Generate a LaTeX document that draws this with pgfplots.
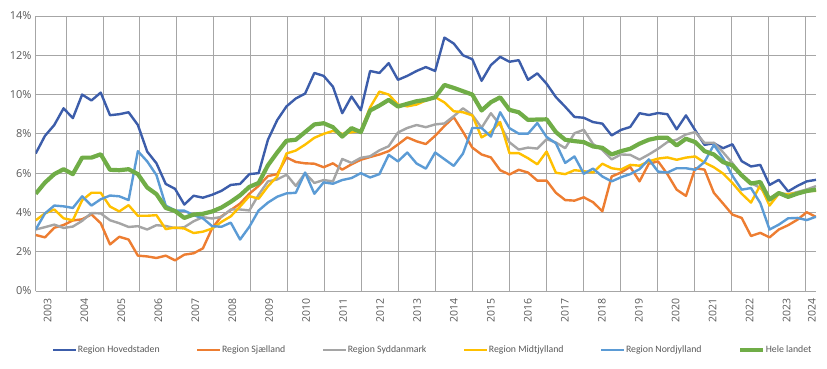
\documentclass[border=0pt]{standalone}
\usepackage{fontspec}
\setmainfont{Carlito}
\newfontfamily\tickfont{Open Sans}
\usepackage{pgfplots}
\usepackage{pgfplotstable}
\pgfplotsset{compat=1.18}
\definecolor{hov}{HTML}{3C5DAA}
\definecolor{sja}{HTML}{ED7D31}
\definecolor{syd}{HTML}{A5A5A5}
\definecolor{mid}{HTML}{FFC000}
\definecolor{nor}{HTML}{5B9BD5}
\definecolor{hel}{HTML}{70AD47}
\definecolor{gridc}{HTML}{A6A6A6}
\definecolor{txtc}{HTML}{595959}
\pgfplotstableread{
i hov sja syd mid nor hel
0 7.0 2.85 3.13 3.6 3.13 4.95
1 7.9 2.73 3.25 3.95 3.95 5.52
2 8.45 3.22 3.38 4.15 4.35 5.95
3 9.3 3.36 3.21 3.7 4.31 6.2
4 8.8 3.59 3.28 3.6 4.23 5.95
5 10.0 3.65 3.57 4.62 4.82 6.79
6 9.7 3.9 3.97 5.0 4.35 6.79
7 10.1 3.45 3.95 5.0 4.67 6.96
8 8.95 2.37 3.6 4.3 4.86 6.17
9 9.0 2.76 3.45 4.05 4.82 6.15
10 9.1 2.62 3.26 4.37 4.63 6.2
11 8.45 1.8 3.3 3.83 7.12 5.95
12 7.1 1.76 3.13 3.83 6.6 5.27
13 6.5 1.68 3.35 3.86 5.9 4.93
14 5.45 1.8 3.31 3.15 4.35 4.23
15 5.2 1.56 3.2 3.23 4.1 4.07
16 4.4 1.85 3.25 3.18 4.09 3.72
17 4.85 1.92 3.55 2.95 3.86 3.89
18 4.75 2.17 3.76 3.02 3.7 3.93
19 4.9 3.2 3.69 3.18 3.3 4.05
20 5.1 3.8 3.77 3.52 3.27 4.25
21 5.4 4.12 4.15 3.8 3.48 4.54
22 5.45 4.45 4.15 4.3 2.62 4.87
23 5.95 4.95 4.1 4.83 3.27 5.3
24 6.0 5.35 4.9 4.7 4.1 5.5
25 7.7 5.85 5.58 5.33 4.5 6.4
26 8.7 5.95 5.68 5.83 4.8 7.05
27 9.4 6.8 5.92 7.0 4.97 7.65
28 9.8 6.57 5.35 7.15 5.0 7.7
29 10.05 6.5 6.0 7.45 6.03 8.09
30 11.1 6.48 5.5 7.8 4.95 8.48
31 10.95 6.3 5.65 8.0 5.53 8.54
32 10.4 6.5 5.58 8.15 5.46 8.34
33 9.05 6.18 6.72 8.0 5.65 7.86
34 9.9 6.45 6.52 8.08 5.75 8.29
35 9.2 6.68 6.78 8.15 6.0 8.09
36 11.2 6.82 6.86 9.35 5.78 9.19
37 11.1 6.95 7.16 10.15 5.95 9.44
38 11.6 7.12 7.37 10.0 6.93 9.73
39 10.75 7.46 8.07 9.49 6.6 9.39
40 10.95 7.82 8.3 9.4 7.05 9.53
41 11.2 7.62 8.45 9.49 6.49 9.66
42 11.4 7.48 8.34 9.7 6.23 9.73
43 11.2 7.9 8.48 9.87 7.05 9.86
44 12.9 8.4 8.53 9.6 6.71 10.49
45 12.6 8.85 8.9 9.15 6.37 10.34
46 12.0 8.1 9.3 9.1 7.0 10.17
47 11.8 7.3 8.96 8.94 8.3 10.0
48 10.7 6.95 8.31 7.82 8.3 9.19
49 11.5 6.8 9.05 8.1 7.86 9.61
50 11.92 6.15 8.45 8.6 9.1 9.86
51 11.67 5.93 7.57 7.02 8.29 9.22
52 11.75 6.17 7.2 7.02 8.01 9.1
53 10.75 6.03 7.3 6.76 8.01 8.71
54 11.08 5.62 7.25 6.45 8.55 8.73
55 10.55 5.62 7.73 7.1 7.84 8.74
56 9.87 5.0 7.56 6.02 7.52 8.09
57 9.38 4.63 7.27 5.95 6.52 7.7
58 8.86 4.6 8.03 6.15 6.85 7.63
59 8.82 4.77 8.21 6.1 5.97 7.58
60 8.6 4.52 7.48 6.03 6.23 7.36
61 8.52 4.06 7.18 6.48 5.83 7.29
62 7.92 5.83 6.7 6.25 5.58 6.95
63 8.2 6.03 6.95 6.18 5.79 7.12
64 8.35 6.32 6.93 6.42 5.95 7.24
65 9.05 5.58 6.69 6.38 6.2 7.5
66 8.96 6.48 6.95 6.6 6.7 7.7
67 9.06 6.6 7.24 6.74 6.08 7.8
68 9.0 5.95 7.58 6.8 6.03 7.8
69 8.23 5.16 7.7 6.68 6.25 7.41
70 8.94 4.84 7.97 6.79 6.25 7.75
71 8.18 6.25 8.09 6.85 6.17 7.58
72 7.44 6.18 7.54 6.54 6.57 7.12
73 7.52 5.0 7.55 6.3 7.44 6.95
74 7.27 4.45 7.06 5.98 6.76 6.56
75 7.47 3.89 6.51 5.5 5.87 6.4
76 6.61 3.72 5.87 4.95 5.16 5.89
77 6.34 2.8 5.5 4.5 5.24 5.47
78 6.42 2.96 5.25 5.38 4.48 5.55
79 5.4 2.73 4.73 4.35 3.13 4.65
80 5.66 3.13 4.99 4.95 3.38 4.99
81 5.07 3.35 4.92 4.93 3.7 4.79
82 5.35 3.63 5.04 4.99 3.72 4.96
83 5.58 4.01 5.17 5.1 3.61 5.09
84 5.66 3.77 5.34 5.1 3.78 5.16
}\data
\begin{document}
\begin{tikzpicture}[x=1pt,y=1pt]
\useasboundingbox (0,0) rectangle (827,369);
\begin{axis}[
  at={(35.7pt,78pt)}, anchor=south west,
  scale only axis, width=780.3pt, height=275pt,
  xmin=0, xmax=84, ymin=0, ymax=14,
  ytick={0,2,4,6,8,10,12,14},
  yticklabels={0\%,2\%,4\%,6\%,8\%,10\%,12\%,14\%},
  ymajorgrids,
  grid style={line width=0.8pt, color=gridc},
  xtick={1.27,5.248,9.226,13.204,17.182,21.16,25.138,29.116,33.094,37.072,41.05,45.028,49.006,52.984,56.962,60.94,64.918,68.896,72.874,76.852,80.83,83.55},
  xticklabels={2003,2004,2005,2006,2007,2008,2009,2010,2011,2012,2013,2014,2015,2016,2017,2018,2019,2020,2021,2022,2023,2024},
  extra x ticks={3.26,7.238,11.216,15.194,19.172,23.15,27.128,31.106,35.084,39.062,43.04,47.018,50.996,54.974,58.952,62.93,66.908,70.886,74.864,78.842,82.82},
  extra x tick labels={},
  extra x tick style={grid=major, major tick length=0pt},
  major tick length=0pt,
  axis lines*=left,
  axis line style={gridc, line width=0.8pt, -},
  xticklabel style={rotate=90, anchor=east, inner sep=0pt, font=\tickfont\fontsize{10.5}{12}\selectfont, text=txtc},
  xticklabel shift=7pt,
  yticklabel style={anchor=east, inner sep=0pt, font=\tickfont\fontsize{11}{12}\selectfont, text=txtc},
  yticklabel shift=4pt,
  legend columns=6,
  legend cell align=left,
  legend image code/.code={\draw[#1] (0pt,0pt) -- (23pt,0pt);},
  legend style={at={(0.0209,-0.2145)}, anchor=west, draw=none, fill=none,
    inner sep=0pt, outer sep=0pt, font=\fontsize{9.8}{11}\selectfont, text=txtc,
    nodes={inner sep=0.5pt},
    /tikz/every even column/.append style={column sep=36pt}},
]
\addplot[hov, line width=2.4pt, line join=round] table[x=i,y=hov]{\data};
\addlegendentry{Region Hovedstaden}
\addplot[sja, line width=2.4pt, line join=round] table[x=i,y=sja]{\data};
\addlegendentry{Region Sjælland}
\addplot[syd, line width=2.4pt, line join=round] table[x=i,y=syd]{\data};
\addlegendentry{Region Syddanmark}
\addplot[mid, line width=2.4pt, line join=round] table[x=i,y=mid]{\data};
\addlegendentry{Region Midtjylland}
\addplot[nor, line width=2.4pt, line join=round] table[x=i,y=nor]{\data};
\addlegendentry{Region Nordjylland}
\addplot[hel, line width=4.2pt, line join=round] table[x=i,y=hel]{\data};
\addlegendentry{Hele landet}
\end{axis}
\end{tikzpicture}
\end{document}
